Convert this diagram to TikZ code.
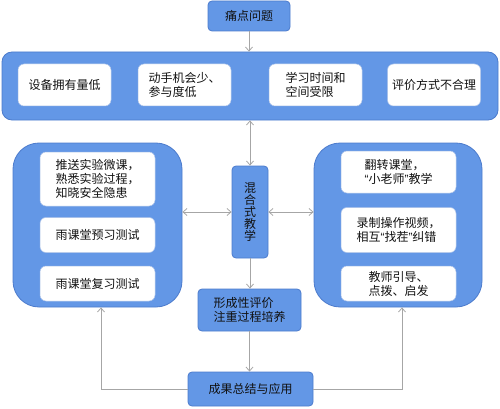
\documentclass[tikz,border=0pt]{standalone}
\usepackage{fontspec}
\setmainfont{Noto Sans CJK SC}
\newfontfamily\quotefont{Liberation Sans}
\usetikzlibrary{arrows.meta,positioning}
\definecolor{boxc}{HTML}{6397E6}
\definecolor{edgec}{HTML}{4C7BCC}
\definecolor{linec}{HTML}{A6A6A6}
\definecolor{txtc}{HTML}{111111}
\newcommand{\openq}{{\quotefont “}}
\newcommand{\closeq}{{\quotefont ”}}

\begin{document}
\begin{tikzpicture}[
    x=1pt, y=-1pt,
    font=\fontsize{12}{14}\selectfont,
    text=txtc,
    blk/.style={
      draw=edgec, fill=boxc, rounded corners=4pt, line width=0.8pt,
      align=left, inner sep=0pt},
    grp/.style={
      draw=edgec, fill=boxc, line width=0.8pt, inner sep=0pt},
    item/.style={
      draw=edgec!45, fill=white, rounded corners=6pt, line width=0.5pt,
      align=left, inner sep=0pt, minimum width=115pt},
    flow/.style={-{Straight Barb[length=4pt,width=7pt]}, linec, line width=0.8pt},
    dflow/.style={{Straight Barb[length=4pt,width=7pt]}-{Straight Barb[length=4pt,width=7pt]},
      linec, line width=0.8pt}
  ]
  \useasboundingbox (0,0) rectangle (500,409);

  % --- pain points
  \node[blk, minimum width=82pt, minimum height=30pt] (pain) at (249,16) {痛点问题};

  % --- problem group
  \node[grp, rounded corners=10pt, minimum width=496pt, minimum height=68pt]
    (probs) at (250,86) {};
  \node[item, minimum width=93pt, minimum height=42pt] (p1) at (64.5,85) {设备拥有量低};
  \node[item, minimum width=93pt, minimum height=42pt] (p2) at (184.5,85) {动手机会少、\\参与度低};
  \node[item, minimum width=93pt, minimum height=42pt] (p3) at (315.5,85) {学习时间和\\空间受限};
  \node[item, minimum width=93pt, minimum height=42pt] (p4) at (434,85) {评价方式不合理};

  % --- blended teaching
  \node[blk, minimum width=36pt, minimum height=92pt, align=center,
    font=\fontsize{12}{12}\selectfont] (mix) at (250,212) {混\\合\\式\\教\\学};

  % --- before class
  \node[grp, rounded corners=26pt, minimum width=169pt, minimum height=164pt]
    (grpL) at (97.5,225) {};
  \node[item, minimum height=54pt] (la) at (97.5,179) {推送实验微课，\\熟悉实验过程，\\知晓安全隐患};
  \node[item, minimum height=35pt, below=11pt of la] (lb) {雨课堂预习测试};
  \node[item, minimum height=35pt, below=13pt of lb] (lc) {雨课堂复习测试};

  % --- in class
  \node[grp, rounded corners=26pt, minimum width=168pt, minimum height=164pt]
    (grpR) at (398,225) {};
  \node[item, minimum height=42pt] (ra) at (398.5,172) {翻转课堂，\\\openq 小老师\closeq 教学};
  \node[item, minimum height=45pt, below=14pt of ra] (rb) {录制操作视频，\\相互\openq 找茬\closeq 纠错};
  \node[item, minimum height=35pt, below=13pt of rb] (rc) {教师引导、\\点拨、启发};

  % --- evaluation and result
  \node[blk, minimum width=103pt, minimum height=42pt] (eval) at (249.5,310)
    {形成性评价\\注重过程培养};
  \node[blk, minimum width=125pt, minimum height=34pt] (res) at (250.5,389)
    {成果总结与应用};

  % --- flows
  \draw[flow] (pain) -- (pain |- probs.north);
  \draw[dflow] (mix.north) -- (mix.north |- probs.south);
  \draw[dflow] (grpL.east |- mix) -- (mix.west);
  \draw[dflow] (mix.east) -- (mix -| grpR.west);
  \draw[flow] (mix) -- (mix |- eval.north);
  \draw[flow] (eval) -- (eval |- res.north);
  \draw[flow] (res.west) -| ([xshift=3.5pt]grpL.south);
  \draw[flow] (res.east) -| ([xshift=4pt]grpR.south);

\end{tikzpicture}
\end{document}
